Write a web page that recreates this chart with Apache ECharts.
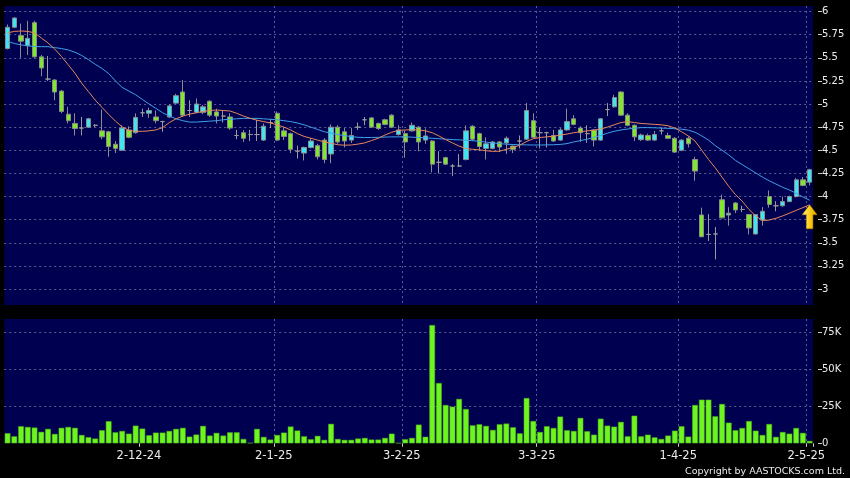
<!DOCTYPE html>
<html><head><meta charset="utf-8">
<script src="https://cdn.jsdelivr.net/npm/echarts@6/dist/echarts.min.js"></script>
<style>html,body{margin:0;padding:0;background:#000;}#c{width:850px;height:478px;}</style>
</head><body><div id="c"></div>
<script>
const dates = [
'4-11-24','5-11-24','6-11-24','7-11-24','8-11-24','11-11-24','12-11-24','13-11-24','14-11-24','15-11-24',
'18-11-24','19-11-24','20-11-24','21-11-24','22-11-24','25-11-24','26-11-24','27-11-24','28-11-24','29-11-24',
'2-12-24','3-12-24','4-12-24','5-12-24','6-12-24','9-12-24','10-12-24','11-12-24','12-12-24','13-12-24',
'16-12-24','17-12-24','18-12-24','19-12-24','20-12-24','23-12-24','24-12-24','27-12-24','30-12-24','31-12-24',
'2-1-25','3-1-25','6-1-25','7-1-25','8-1-25','9-1-25','10-1-25','13-1-25','14-1-25','15-1-25',
'16-1-25','17-1-25','20-1-25','21-1-25','22-1-25','23-1-25','24-1-25','27-1-25','28-1-25',
'3-2-25','4-2-25','5-2-25','6-2-25','7-2-25','10-2-25','11-2-25','12-2-25','13-2-25','14-2-25',
'17-2-25','18-2-25','19-2-25','20-2-25','21-2-25','24-2-25','25-2-25','26-2-25','27-2-25','28-2-25',
'3-3-25','4-3-25','5-3-25','6-3-25','7-3-25','10-3-25','11-3-25','12-3-25','13-3-25','14-3-25',
'17-3-25','18-3-25','19-3-25','20-3-25','21-3-25','24-3-25','25-3-25','26-3-25','27-3-25','28-3-25','31-3-25',
'1-4-25','2-4-25','3-4-25','7-4-25','8-4-25','9-4-25','10-4-25','11-4-25','14-4-25','15-4-25',
'16-4-25','17-4-25','22-4-25','23-4-25','24-4-25','25-4-25','28-4-25','29-4-25','30-4-25',
'2-5-25'];

const openP = [
5.60,5.83,5.74,5.63,5.88,5.51,5.27,5.26,5.14,4.89,
4.79,4.74,4.75,4.77,4.71,4.70,4.565,4.50,4.72,4.69,
4.905,4.90,4.86,4.81,4.86,5.01,5.13,4.93,4.91,4.91,
5.03,4.915,4.87,4.86,4.66,4.69,4.67,4.67,4.61,4.80,
4.90,4.71,4.68,4.49,4.47,4.53,4.55,4.61,4.46,4.75,
4.70,4.61,4.75,4.83,4.85,4.79,4.83,4.88,4.67,4.68,
4.71,4.75,4.61,4.60,4.37,4.42,4.33,4.33,4.40,4.76,
4.68,4.52,4.52,4.59,4.58,4.545,4.60,4.62,4.82,4.69,
4.69,4.66,4.61,4.72,4.84,4.74,4.68,4.72,4.61,4.94,
4.97,5.13,4.88,4.77,4.615,4.66,4.61,4.71,4.66,4.63,
4.50,4.63,4.40,3.80,3.59,3.595,3.965,3.80,3.93,3.86,
3.805,3.595,3.745,4.00,3.90,3.90,3.945,4.00,4.18,4.155];

const closeP = [
5.83,5.93,5.68,5.71,5.51,5.39,5.27,5.13,4.92,4.82,
4.735,4.74,4.84,4.77,4.645,4.54,4.52,4.74,4.64,4.855,
4.905,4.93,4.82,4.81,4.98,5.09,4.88,4.93,5.00,4.97,
4.88,4.87,4.87,4.74,4.66,4.63,4.67,4.67,4.76,4.80,
4.61,4.65,4.51,4.49,4.53,4.60,4.43,4.40,4.75,4.59,
4.60,4.66,4.75,4.83,4.75,4.735,4.78,4.75,4.72,4.59,
4.77,4.59,4.655,4.35,4.37,4.35,4.33,4.33,4.71,4.62,
4.54,4.57,4.59,4.535,4.63,4.51,4.60,4.93,4.64,4.69,
4.69,4.60,4.72,4.81,4.78,4.69,4.68,4.61,4.84,4.94,
5.07,4.88,4.77,4.645,4.665,4.61,4.67,4.71,4.63,4.48,
4.61,4.57,4.275,3.565,3.59,3.595,3.77,3.82,3.855,3.86,
3.66,3.805,3.84,3.915,3.90,3.945,4.00,4.18,4.12,4.29];

const lowP = [
5.59,5.82,5.50,5.53,5.50,5.30,5.25,5.04,4.90,4.79,
4.66,4.66,4.74,4.75,4.62,4.43,4.47,4.50,4.63,4.68,
4.86,4.85,4.79,4.70,4.85,5.00,4.86,4.86,4.90,4.89,
4.86,4.79,4.80,4.72,4.62,4.59,4.60,4.60,4.60,4.74,
4.60,4.61,4.47,4.41,4.39,4.52,4.40,4.36,4.36,4.57,
4.53,4.58,4.72,4.77,4.74,4.72,4.77,4.74,4.66,4.42,
4.70,4.49,4.57,4.26,4.25,4.34,4.22,4.32,4.39,4.60,
4.49,4.40,4.51,4.48,4.46,4.47,4.52,4.61,4.63,4.52,
4.53,4.59,4.60,4.71,4.77,4.59,4.58,4.54,4.60,4.87,
4.96,4.87,4.76,4.60,4.60,4.60,4.60,4.67,4.62,4.47,
4.49,4.53,4.17,3.56,3.52,3.32,3.76,3.685,3.82,3.83,
3.59,3.59,3.685,3.88,3.84,3.89,3.94,3.99,4.11,4.12];

const highP = [
5.86,5.94,5.87,5.90,5.90,5.53,5.52,5.27,5.15,4.97,
4.90,4.86,4.85,4.78,4.94,4.71,4.60,4.77,4.76,4.90,
4.95,4.96,4.93,4.82,5.00,5.11,5.26,5.04,5.06,4.99,
5.04,4.95,4.93,4.90,4.72,4.72,4.72,4.83,4.79,4.84,
4.92,4.75,4.69,4.55,4.54,4.63,4.57,4.63,4.78,4.77,
4.74,4.74,4.80,4.86,4.86,4.80,4.84,4.89,4.77,4.715,
4.80,4.76,4.735,4.61,4.49,4.43,4.35,4.46,4.77,4.77,
4.69,4.64,4.60,4.60,4.65,4.55,4.66,5.01,4.90,4.75,
4.70,4.72,4.74,4.95,4.88,4.76,4.77,4.73,4.85,5.01,
5.10,5.14,4.90,4.78,4.68,4.68,4.71,4.745,4.69,4.64,
4.62,4.65,4.43,3.88,3.81,3.67,4.02,3.885,3.94,3.90,
3.81,3.81,3.885,4.065,3.95,4.00,4.01,4.20,4.21,4.30];

// volume in thousands of shares
const volumeK = [
6.8,4.7,11.5,11.0,10.6,7.7,9.7,6.3,10.4,11.0,
10.4,5.6,4.1,3.2,8.8,14.9,7.4,8.3,6.5,11.9,
9.9,5.4,7.2,7.2,8.3,9.7,10.4,4.5,5.9,11.7,
5.2,7.0,5.2,7.4,7.4,2.9,0.3,9.7,4.3,2.5,
5.6,7.2,11.3,8.6,4.7,2.7,5.0,2.3,13.1,2.9,
2.3,2.3,3.2,3.6,2.5,2.5,3.6,6.5,0.2,2.7,
3.6,12.6,4.4,79.7,40.6,25.8,24.7,29.9,23.1,12.1,
12.8,11.7,9.0,12.8,13.3,10.8,6.7,30.5,15.0,7.6,
11.5,10.3,18.0,8.8,8.3,17.1,8.1,5.8,16.6,11.9,
11.2,14.4,4.7,18.6,4.7,5.8,4.0,2.9,5.2,8.5,
11.5,4.5,25.8,29.4,29.4,18.2,26.5,13.9,8.8,10.3,
15.0,8.5,5.6,13.0,4.3,7.6,6.5,10.3,7.0,1.6];

const ma10 = [
5.77,5.785,5.79,5.785,5.77,5.714,5.66,5.594,5.514,5.424,
5.333,5.225,5.134,5.043,4.964,4.888,4.815,4.754,4.715,4.705,
4.705,4.71,4.72,4.745,4.80,4.84,4.87,4.89,4.905,4.92,
4.93,4.935,4.93,4.925,4.90,4.87,4.845,4.825,4.81,4.795,
4.775,4.75,4.72,4.68,4.65,4.63,4.61,4.59,4.575,4.56,
4.555,4.557,4.567,4.58,4.605,4.63,4.665,4.695,4.715,4.72,
4.722,4.72,4.71,4.69,4.655,4.615,4.58,4.545,4.52,4.51,
4.505,4.495,4.488,4.49,4.51,4.53,4.555,4.595,4.625,4.638,
4.645,4.652,4.663,4.675,4.69,4.70,4.71,4.716,4.73,4.75,
4.775,4.80,4.81,4.80,4.79,4.785,4.78,4.775,4.765,4.74,
4.70,4.655,4.60,4.50,4.40,4.31,4.21,4.11,4.02,3.95,
3.86,3.79,3.74,3.745,3.765,3.79,3.82,3.85,3.88,3.91];

const ma20 = [
5.677,5.655,5.64,5.63,5.622,5.62,5.62,5.61,5.60,5.585,
5.56,5.525,5.48,5.43,5.385,5.33,5.25,5.18,5.14,5.10,
5.05,5.00,4.953,4.906,4.87,4.84,4.82,4.805,4.805,4.81,
4.815,4.82,4.83,4.835,4.84,4.845,4.845,4.845,4.84,4.835,
4.83,4.82,4.81,4.795,4.775,4.75,4.725,4.70,4.685,4.67,
4.658,4.648,4.64,4.638,4.638,4.64,4.643,4.645,4.645,4.645,
4.642,4.638,4.634,4.63,4.625,4.62,4.616,4.612,4.608,4.603,
4.597,4.588,4.58,4.572,4.566,4.562,4.56,4.558,4.557,4.557,
4.558,4.56,4.563,4.572,4.59,4.605,4.62,4.64,4.66,4.685,
4.705,4.72,4.73,4.738,4.745,4.745,4.743,4.74,4.737,4.733,
4.728,4.718,4.695,4.655,4.61,4.55,4.50,4.45,4.39,4.345,
4.30,4.255,4.21,4.17,4.135,4.10,4.07,4.035,3.995,3.96];

const tickLabels = ['2-12-24','2-1-25','3-2-25','3-3-25','1-4-25','2-5-25'];
const tickIdx = tickLabels.map(t => dates.indexOf(t));
const isTick = (i) => tickIdx.indexOf(i) >= 0;

const gridLine = { type: [2, 3], color: '#5c5c90', width: 1 };
const txt = '#ececec';
const FONT = 'DejaVu Sans';

const candleData = dates.map((d, i) => [openP[i], closeP[i], lowP[i], highP[i]]);

const chart = echarts.init(document.getElementById('c'), null, { renderer: 'canvas' });
chart.setOption({
  animation: false,
  backgroundColor: '#000000',
  grid: [
    { left: 4.2, right: 37, top: 6, height: 299, show: true, backgroundColor: '#000050', borderWidth: 0 },
    { left: 4.2, right: 37, top: 319, height: 124.3, show: true, backgroundColor: '#000050', borderWidth: 0 }
  ],
  xAxis: [
    { gridIndex: 0, type: 'category', data: dates, boundaryGap: true,
      axisLine: { show: false }, axisTick: { show: false }, axisLabel: { show: false },
      splitLine: { show: true, showMinLine: false, showMaxLine: false, interval: (i) => isTick(i), lineStyle: gridLine } },
    { gridIndex: 1, type: 'category', data: dates, boundaryGap: true, offset: 2.5,
      axisLine: { show: false },
      axisTick: { show: true, interval: (i) => isTick(i), length: 3.5, lineStyle: { color: '#cccccc' } },
      axisLabel: { show: true, interval: (i) => isTick(i), color: txt, fontSize: 11.5, fontFamily: FONT,
                   margin: 4.5, padding: [0, 6.74, 0, 0] },
      splitLine: { show: true, showMinLine: false, showMaxLine: false, interval: (i) => isTick(i), lineStyle: gridLine } }
  ],
  yAxis: [
    { gridIndex: 0, type: 'value', position: 'right', offset: 5, min: 2.827, max: 6.06,
      minInterval: 0.25, maxInterval: 0.25,
      axisLine: { show: false }, axisTick: { show: true, length: 4, lineStyle: { color: '#cccccc' } },
      axisLabel: { color: txt, fontSize: 10, fontFamily: FONT, margin: 4, showMinLabel: false, showMaxLabel: false },
      splitLine: { show: true, showMinLine: false, showMaxLine: false, lineStyle: gridLine } },
    { gridIndex: 1, type: 'value', position: 'right', offset: 5, min: 0, max: 83.8,
      minInterval: 25, maxInterval: 25,
      axisLine: { show: false }, axisTick: { show: true, length: 4, lineStyle: { color: '#cccccc' } },
      axisLabel: { color: txt, fontSize: 10, fontFamily: FONT, margin: 4, showMaxLabel: false,
                   formatter: (v) => v === 0 ? '0' : v + 'K' },
      splitLine: { show: true, showMinLine: false, showMaxLine: false, lineStyle: gridLine } }
  ],
  series: [
    { type: 'candlestick', xAxisIndex: 0, yAxisIndex: 0, data: candleData, barWidth: 4.8,
      itemStyle: { color: '#3fe6f2', color0: '#80e82a', borderColor: '#8c8c8c', borderColor0: '#8c8c8c',
                   borderColorDoji: '#9a9a9a', borderWidth: 1 } },
    { type: 'line', xAxisIndex: 0, yAxisIndex: 0, data: ma20, showSymbol: false, symbol: 'none',
      lineStyle: { color: '#3fa0e8', width: 1 }, z: 3 },
    { type: 'line', xAxisIndex: 0, yAxisIndex: 0, data: ma10, showSymbol: false, symbol: 'none',
      lineStyle: { color: '#e8875a', width: 1 }, z: 4,
      markPoint: {
        silent: true,
        symbol: 'path://M7.5,0 L15,10 L10.8,10 L10.8,24 L4.2,24 L4.2,10 L0,10 Z',
        symbolSize: [15, 24], symbolOffset: [0, 12], symbolKeepAspect: false,
        label: { show: false },
        itemStyle: {
          color: { type: 'linear', x: 0, y: 0, x2: 1, y2: 0,
                   colorStops: [{ offset: 0, color: '#fff2a0' }, { offset: 0.45, color: '#ffd21a' }, { offset: 1, color: '#d99a00' }] },
          borderColor: '#b07a00', borderWidth: 0.5 },
        data: [{ coord: [dates[dates.length - 1], ma10[ma10.length - 1]] }]
      } },
    { type: 'bar', xAxisIndex: 1, yAxisIndex: 1, data: volumeK, barWidth: '84%',
      itemStyle: { color: '#6ef41e', borderColor: '#4fb018', borderWidth: 0.5 } }
  ],
  graphic: [
    { type: 'text', x: 845, y: 471.5, silent: true,
      style: { text: 'Copyright by AASTOCKS.com Ltd.', fill: txt, font: '9.5px "DejaVu Sans"', align: 'right', verticalAlign: 'middle' } }
  ]
});
</script>
</body></html>
